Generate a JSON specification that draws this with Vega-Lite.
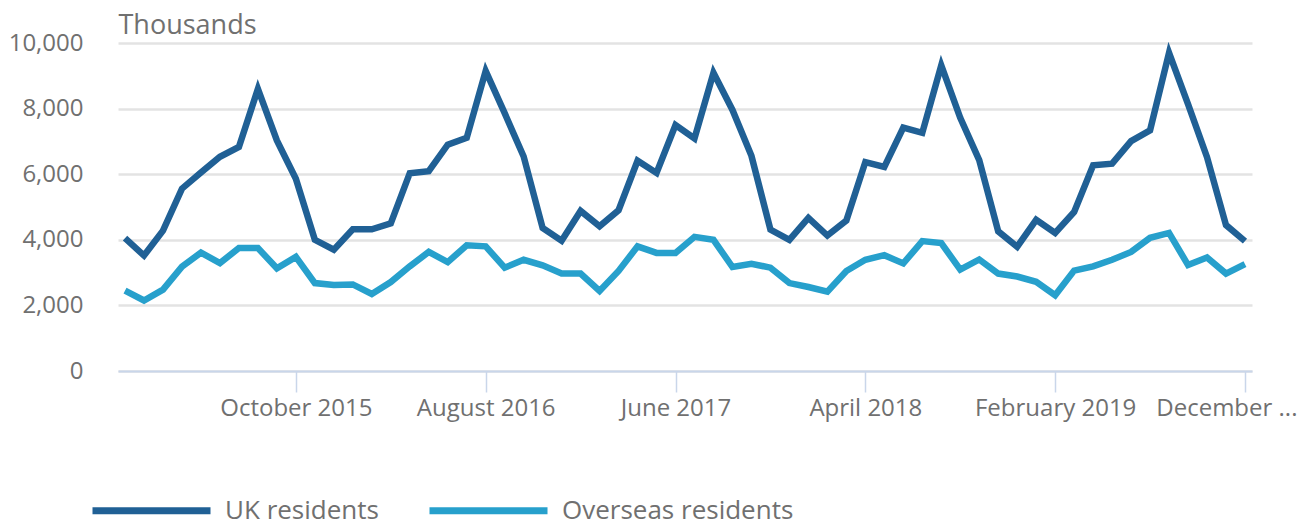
{
  "$schema": "https://vega.github.io/schema/vega-lite/v6.json",
  "autosize": "none",
  "width": 1134,
  "height": 328,
  "padding": {"left": 118, "top": 43, "right": 56, "bottom": 157},
  "background": "white",
  "config": {
    "font": "Open Sans",
    "view": {"stroke": null}
  },
  "data": {
    "values": [
      {"month": "January 2015", "UK residents": 4050, "Overseas residents": 2450},
      {"month": "February 2015", "UK residents": 3520, "Overseas residents": 2150},
      {"month": "March 2015", "UK residents": 4280, "Overseas residents": 2480},
      {"month": "April 2015", "UK residents": 5560, "Overseas residents": 3180},
      {"month": "May 2015", "UK residents": 6050, "Overseas residents": 3610},
      {"month": "June 2015", "UK residents": 6530, "Overseas residents": 3290},
      {"month": "July 2015", "UK residents": 6830, "Overseas residents": 3750},
      {"month": "August 2015", "UK residents": 8600, "Overseas residents": 3750},
      {"month": "September 2015", "UK residents": 7030, "Overseas residents": 3130},
      {"month": "October 2015", "UK residents": 5860, "Overseas residents": 3480},
      {"month": "November 2015", "UK residents": 4000, "Overseas residents": 2680},
      {"month": "December 2015", "UK residents": 3700, "Overseas residents": 2620},
      {"month": "January 2016", "UK residents": 4320, "Overseas residents": 2640},
      {"month": "February 2016", "UK residents": 4320, "Overseas residents": 2350},
      {"month": "March 2016", "UK residents": 4500, "Overseas residents": 2710},
      {"month": "April 2016", "UK residents": 6030, "Overseas residents": 3190},
      {"month": "May 2016", "UK residents": 6090, "Overseas residents": 3630},
      {"month": "June 2016", "UK residents": 6900, "Overseas residents": 3320},
      {"month": "July 2016", "UK residents": 7110, "Overseas residents": 3830},
      {"month": "August 2016", "UK residents": 9150, "Overseas residents": 3800},
      {"month": "September 2016", "UK residents": 7860, "Overseas residents": 3150},
      {"month": "October 2016", "UK residents": 6540, "Overseas residents": 3390},
      {"month": "November 2016", "UK residents": 4360, "Overseas residents": 3220},
      {"month": "December 2016", "UK residents": 3970, "Overseas residents": 2970},
      {"month": "January 2017", "UK residents": 4880, "Overseas residents": 2970},
      {"month": "February 2017", "UK residents": 4410, "Overseas residents": 2440},
      {"month": "March 2017", "UK residents": 4900, "Overseas residents": 3050},
      {"month": "April 2017", "UK residents": 6410, "Overseas residents": 3800},
      {"month": "May 2017", "UK residents": 6040, "Overseas residents": 3600},
      {"month": "June 2017", "UK residents": 7500, "Overseas residents": 3600},
      {"month": "July 2017", "UK residents": 7090, "Overseas residents": 4090},
      {"month": "August 2017", "UK residents": 9090, "Overseas residents": 4000},
      {"month": "September 2017", "UK residents": 7960, "Overseas residents": 3170},
      {"month": "October 2017", "UK residents": 6560, "Overseas residents": 3270},
      {"month": "November 2017", "UK residents": 4310, "Overseas residents": 3150},
      {"month": "December 2017", "UK residents": 4000, "Overseas residents": 2680},
      {"month": "January 2018", "UK residents": 4670, "Overseas residents": 2560},
      {"month": "February 2018", "UK residents": 4130, "Overseas residents": 2420},
      {"month": "March 2018", "UK residents": 4590, "Overseas residents": 3050},
      {"month": "April 2018", "UK residents": 6370, "Overseas residents": 3390},
      {"month": "May 2018", "UK residents": 6220, "Overseas residents": 3530},
      {"month": "June 2018", "UK residents": 7420, "Overseas residents": 3280},
      {"month": "July 2018", "UK residents": 7260, "Overseas residents": 3960},
      {"month": "August 2018", "UK residents": 9320, "Overseas residents": 3900},
      {"month": "September 2018", "UK residents": 7720, "Overseas residents": 3090},
      {"month": "October 2018", "UK residents": 6430, "Overseas residents": 3400},
      {"month": "November 2018", "UK residents": 4260, "Overseas residents": 2970},
      {"month": "December 2018", "UK residents": 3790, "Overseas residents": 2880},
      {"month": "January 2019", "UK residents": 4610, "Overseas residents": 2720},
      {"month": "February 2019", "UK residents": 4210, "Overseas residents": 2310},
      {"month": "March 2019", "UK residents": 4850, "Overseas residents": 3060},
      {"month": "April 2019", "UK residents": 6270, "Overseas residents": 3190},
      {"month": "May 2019", "UK residents": 6320, "Overseas residents": 3390},
      {"month": "June 2019", "UK residents": 7010, "Overseas residents": 3630},
      {"month": "July 2019", "UK residents": 7340, "Overseas residents": 4060},
      {"month": "August 2019", "UK residents": 9700, "Overseas residents": 4210},
      {"month": "September 2019", "UK residents": 8140, "Overseas residents": 3230},
      {"month": "October 2019", "UK residents": 6520, "Overseas residents": 3460},
      {"month": "November 2019", "UK residents": 4450, "Overseas residents": 2970},
      {"month": "December 2019", "UK residents": 3960, "Overseas residents": 3260}
    ]
  },
  "transform": [
    {"fold": ["UK residents", "Overseas residents"], "as": ["series", "value"]}
  ],
  "mark": {"type": "line", "strokeWidth": 6.5, "strokeJoin": "miter"},
  "encoding": {
    "x": {
      "field": "month",
      "type": "ordinal",
      "sort": null,
      "scale": {"type": "point", "padding": 0.37},
      "axis": {
        "title": null,
        "values": ["October 2015", "August 2016", "June 2017", "April 2018", "February 2019", "December 2019"],
        "labelExpr": "datum.label == 'December 2019' ? 'December ...' : datum.label",
        "labelAngle": 0,
        "labelFontSize": 24,
        "labelColor": "#707070",
        "labelPadding": 4,
        "labelFlush": 20,
        "labelFlushOffset": 52,
        "labelOverlap": false,
        "tickSize": 21,
        "tickColor": "#c9d6ea",
        "tickWidth": 1.5,
        "domainColor": "#c9d6ea",
        "domainWidth": 2,
        "grid": false
      }
    },
    "y": {
      "field": "value",
      "type": "quantitative",
      "scale": {"domain": [0, 10000], "nice": false},
      "axis": {
        "values": [0, 2000, 4000, 6000, 8000, 10000],
        "format": ",.0f",
        "title": "Thousands",
        "titleAngle": 0,
        "titleAlign": "left",
        "titleBaseline": "alphabetic",
        "titleX": 0,
        "titleY": -10,
        "titleFontSize": 27,
        "titleFontWeight": "normal",
        "titleColor": "#707070",
        "labelFontSize": 24,
        "labelColor": "#707070",
        "labelPadding": 35,
        "ticks": false,
        "domain": false,
        "grid": true,
        "gridColor": "#e3e3e3",
        "gridWidth": 2.5
      }
    },
    "color": {
      "field": "series",
      "type": "nominal",
      "scale": {"domain": ["UK residents", "Overseas residents"], "range": ["#206095", "#27a0cc"]},
      "legend": {
        "title": null,
        "orient": "none",
        "direction": "horizontal",
        "legendX": -29,
        "legendY": 405,
        "padding": 0,
        "symbolType": "stroke",
        "symbolSize": 13924,
        "symbolStrokeWidth": 7,
        "labelFontSize": 26,
        "labelColor": "#707070",
        "labelOffset": 11,
        "labelLimit": 400,
        "columnPadding": 36
      }
    }
  }
}
